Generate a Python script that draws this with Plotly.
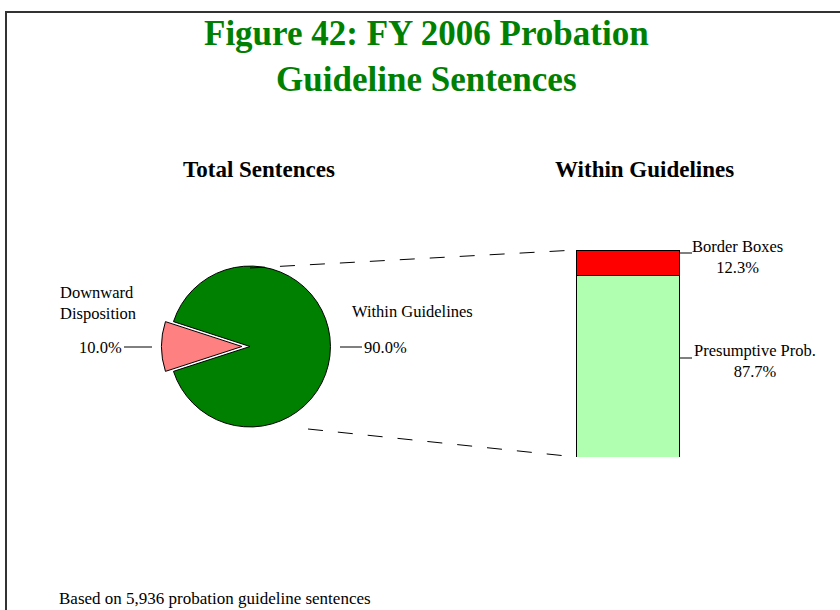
import plotly.graph_objects as go

# data
pie_labels = ['Downward Disposition', 'Within Guidelines']
pie_values = [10.0, 90.0]
pie_colors = ['#FF8080', '#008000']

bar_category = ['Within Guidelines']
bar_labels = ['Presumptive Prob.', 'Border Boxes']
bar_values = [87.7, 12.3]
bar_colors = ['#B0FFB0', '#FF0000']

W, H = 840, 610


def px(x):
    return x / W


def py(y):
    return 1 - y / H


serif = 'Liberation Serif, Times New Roman, serif'

fig = go.Figure()

# pie (Total Sentences)
fig.add_trace(go.Pie(labels=pie_labels, values=pie_values, sort=False, direction='clockwise',
                     rotation=252, pull=[0.1, 0], textinfo='none',
                     marker=dict(colors=pie_colors, line=dict(color='black', width=1)),
                     domain=dict(x=[px(160), px(340)], y=[py(435), py(258)]),
                     showlegend=False))

# stacked bar (Within Guidelines)
for name, val, col in zip(bar_labels, bar_values, bar_colors):
    fig.add_trace(go.Bar(x=bar_category, y=[val], name=name, width=1,
                         marker=dict(color=col, line=dict(color='black', width=1)),
                         showlegend=False))

fig.update_layout(
    barmode='stack', width=W, height=H, margin=dict(l=0, r=0, t=0, b=0),
    paper_bgcolor='white', plot_bgcolor='white',
    xaxis=dict(domain=[px(572), px(684)], range=[-0.54, 0.54], visible=False),
    yaxis=dict(domain=[py(457), py(250)], range=[0, 100], visible=False),
    font=dict(family=serif, color='black', size=16.5),
)

ann = []
ann.append(dict(x=px(426), y=py(57), text='<b>Figure 42: FY 2006 Probation<br>Guideline Sentences</b>',
                font=dict(size=35, color='#008000', family=serif)))
ann.append(dict(x=px(259), y=py(169), text='<b>Total Sentences</b>', font=dict(size=23)))
ann.append(dict(x=px(644), y=py(169), text='<b>Within Guidelines</b>', font=dict(size=23)))
ann.append(dict(x=px(58), y=py(303), text='Downward<br>Disposition', xanchor='left', align='left'))
ann.append(dict(x=px(124), y=py(347), text=f'{pie_values[0]:.1f}%', xanchor='right'))
ann.append(dict(x=px(350), y=py(311), text=pie_labels[1], xanchor='left'))
ann.append(dict(x=px(362), y=py(347), text=f'{pie_values[1]:.1f}%', xanchor='left'))
ann.append(dict(x=px(737), y=py(257), text=f'{bar_labels[1]}<br>{bar_values[1]:.1f}%'))
ann.append(dict(x=px(755), y=py(361), text=f'{bar_labels[0]}<br>{bar_values[0]:.1f}%'))
ann.append(dict(x=px(57), y=0, text='Based on 5,936 probation guideline sentences',
                xanchor='left', yanchor='bottom', font=dict(size=17)))
for a in ann:
    a.update(xref='paper', yref='paper', showarrow=False)
    a.setdefault('xanchor', 'center')
    a.setdefault('yanchor', 'middle')
fig.update_layout(annotations=ann)

shapes = []
# frame
shapes.append(dict(type='rect', xref='paper', yref='paper', x0=px(6), x1=px(860), y0=py(640), y1=py(12),
                   line=dict(color='#333333', width=2)))
# connector dashed lines
shapes.append(dict(type='line', xref='paper', yref='paper', x0=px(250), y0=py(268), x1=px(576), y1=py(250),
                   line=dict(color='black', width=1, dash='longdash')))
shapes.append(dict(type='line', xref='paper', yref='paper', x0=px(308), y0=py(429), x1=px(576), y1=py(457),
                   line=dict(color='black', width=1, dash='longdash')))
# leader lines
for x0, x1, y in [(124, 152, 347), (340, 362, 347), (680, 692, 253), (680, 692, 358)]:
    shapes.append(dict(type='line', xref='paper', yref='paper', x0=px(x0), x1=px(x1), y0=py(y), y1=py(y),
                       line=dict(color='black', width=1)))
fig.update_layout(shapes=shapes)

fig.write_html('out.html', config={'displayModeBar': False},
               post_script="document.body.style.margin='0';")
